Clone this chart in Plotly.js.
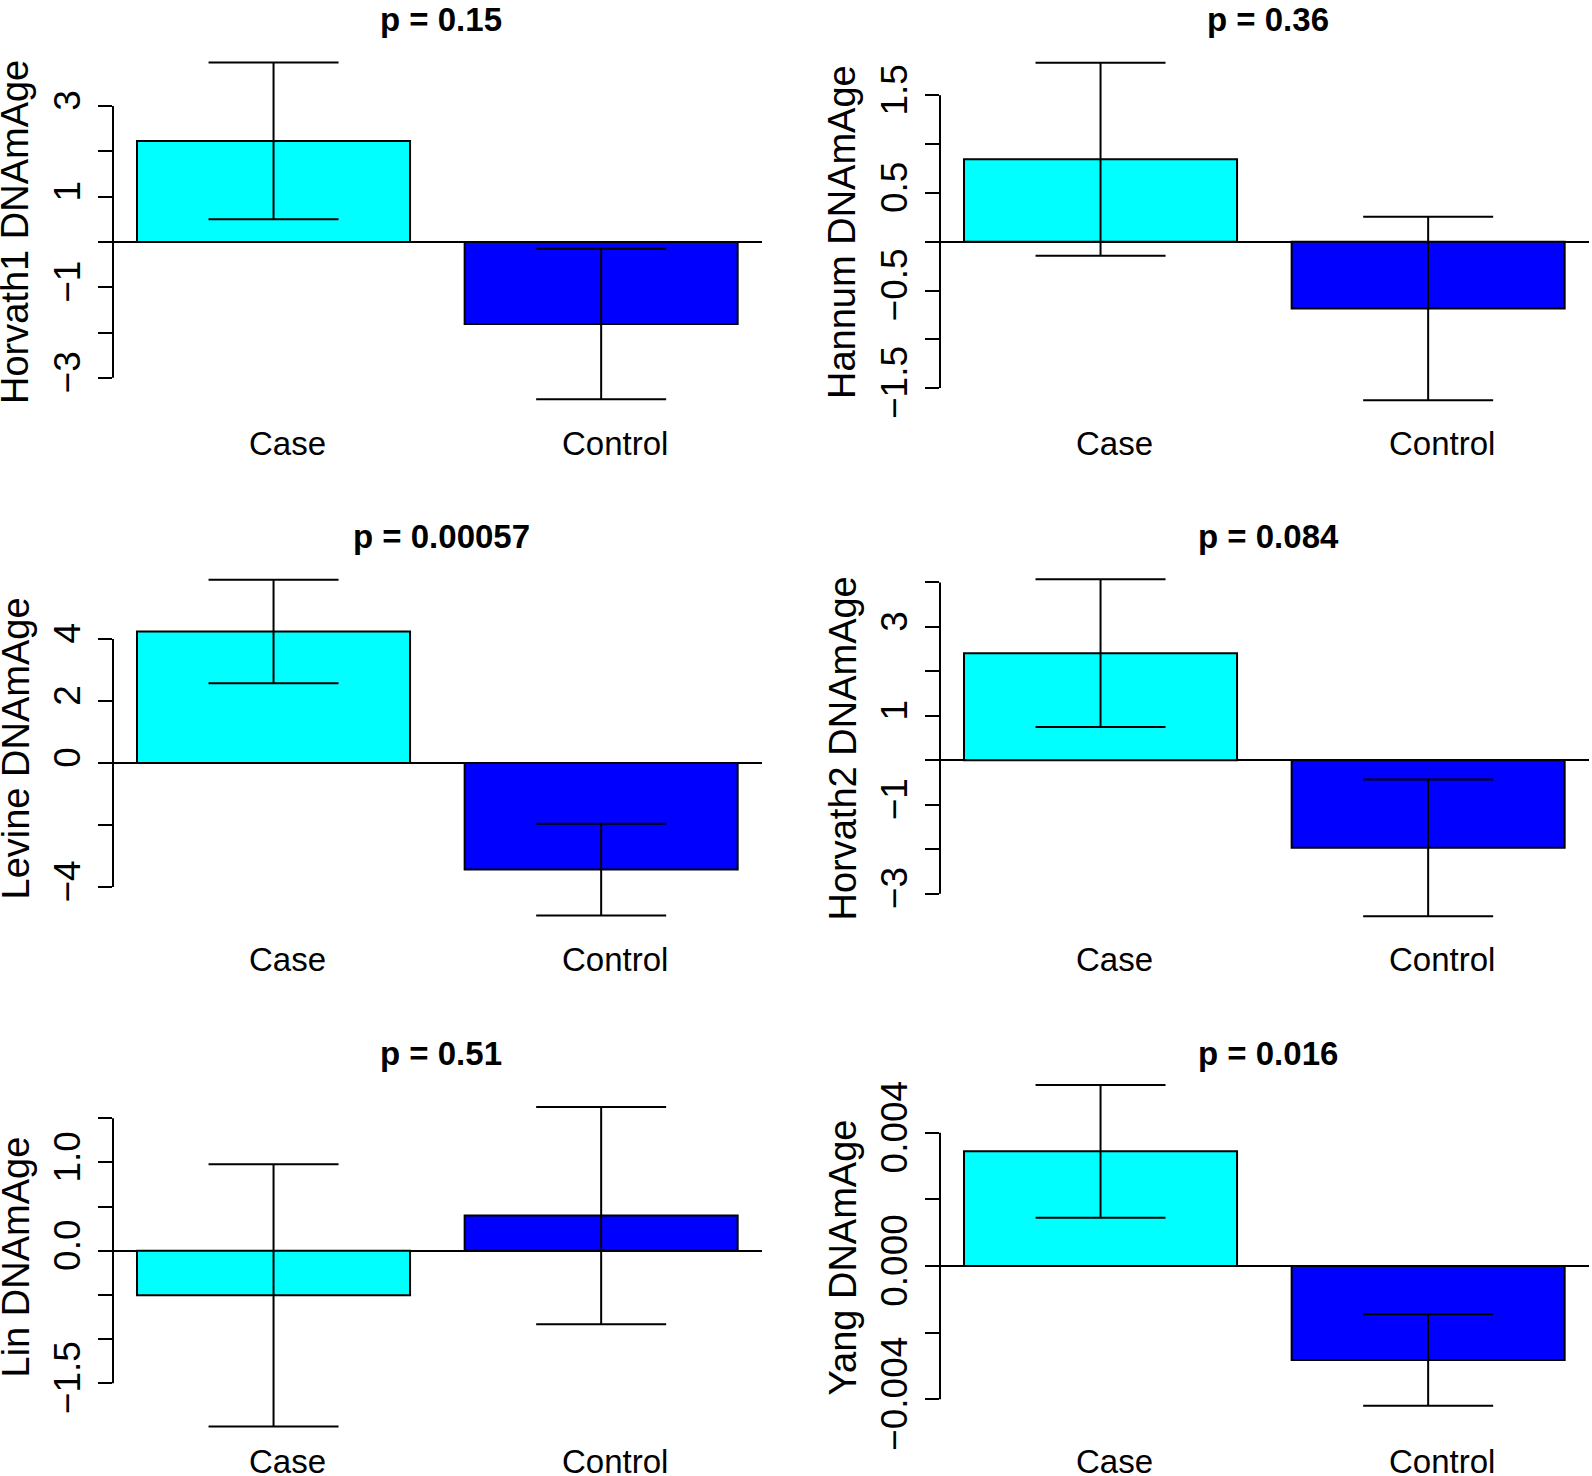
<!DOCTYPE html>
<html><head><meta charset="utf-8">
<script src="https://cdn.plot.ly/plotly-3.0.1.min.js"></script>
<style>html,body{margin:0;padding:0;background:#fff;} #chart{width:1592px;height:1476px;}</style>
</head><body><div id="chart"></div>
<script>
// ---- data ----
const groups = ["Case", "Control"];
const measures = ["Horvath1 DNAmAge", "Hannum DNAmAge", "Levine DNAmAge", "Horvath2 DNAmAge", "Lin DNAmAge", "Yang DNAmAge"];
const pValues = ["0.15", "0.36", "0.00057", "0.084", "0.51", "0.016"];
const caseMean = [2.23, 0.845, 4.24, 2.41, -0.505, 0.00344];
const caseSE = [1.73, 0.99, 1.67, 1.66, 1.485, 0.00199];
const controlMean = [-1.81, -0.685, -3.44, -1.97, 0.398, -0.00282];
const controlSE = [1.66, 0.94, 1.48, 1.54, 1.23, 0.00137];
const tickValues = [
  [-3, -2, -1, 0, 1, 2, 3],
  [-1.5, -1, -0.5, 0, 0.5, 1, 1.5],
  [-4, -2, 0, 2, 4],
  [-3, -2, -1, 0, 1, 2, 3, 4],
  [-1.5, -1, -0.5, 0, 0.5, 1, 1.5],
  [-0.004, -0.002, 0, 0.002, 0.004]
];
const tickLabels = [
  ["\u22123", "", "\u22121", "", "1", "", "3"],
  ["\u22121.5", "", "\u22120.5", "", "0.5", "", "1.5"],
  ["\u22124", "", "0", "2", "4"],
  ["\u22123", "", "\u22121", "", "1", "", "3", ""],
  ["\u22121.5", "", "", "0.0", "", "1.0", ""],
  ["\u22120.004", "", "0.000", "", "0.004"]
];
const barColors = ["#00FFFF", "#0000FF"];

// ---- layout settings ----
const W = 1592, H = 1476;
const FONT = "Liberation Sans, Arial, Helvetica, sans-serif";
const colPx = [[113, 761.7], [940, 1588.7]];
const rowPx = [[49, 415], [566, 931], [1082, 1433]];
const yRanges = [[-3.82, 4.26], [-1.776, 1.975], [-5.42, 6.35], [-3.84, 4.37], [-2.064, 1.91], [-0.00501, 0.00552]];

const data = [];
const layout = {
  width: W, height: H,
  margin: {l: 0, r: 0, t: 0, b: 0},
  paper_bgcolor: "#fff", plot_bgcolor: "rgba(0,0,0,0)",
  showlegend: false, bargap: 1/6,
  font: {family: FONT, color: "#000", size: 32},
  shapes: [], annotations: []
};
const px2x = p => p / W;
const px2y = p => 1 - p / H;

measures.forEach((m, i) => {
  const col = i % 2, row = Math.floor(i / 2);
  const xid = i === 0 ? "x" : "x" + (i + 1);
  const yid = i === 0 ? "y" : "y" + (i + 1);
  const xk = i === 0 ? "xaxis" : "xaxis" + (i + 1);
  const yk = i === 0 ? "yaxis" : "yaxis" + (i + 1);
  const [x0, x1] = colPx[col];
  const [t, b] = rowPx[row];

  data.push({
    type: "bar", x: groups, y: [caseMean[i], controlMean[i]],
    xaxis: xid, yaxis: yid,
    marker: {color: barColors, line: {color: "#000", width: 2}},
    error_y: {type: "data", array: [caseSE[i], controlSE[i]], visible: true,
              color: "#000", thickness: 2, width: 65},
    hoverinfo: "skip"
  });

  layout[xk] = {
    domain: [px2x(x0), px2x(x1)], anchor: yid,
    type: "category", categoryarray: groups, range: [-0.49, 1.49],
    showline: false, zeroline: false, showgrid: false, ticks: "",
    tickfont: {size: 33, family: FONT, color: "#000"},
    ticklabelstandoff: 6, ticklabelshift: 14,
    fixedrange: true
  };
  layout[yk] = {
    domain: [px2y(b), px2y(t)], anchor: xid, range: yRanges[i],
    tickmode: "array", tickvals: tickValues[i], ticktext: tickLabels[i],
    ticks: "outside", ticklen: 14, tickwidth: 2, tickcolor: "#000",
    tickangle: -90, tickfont: {size: 37, family: FONT, color: "#000"},
    ticklabelstandoff: 3,
    showgrid: false, showline: false,
    zeroline: true, zerolinecolor: "#000", zerolinewidth: 2,
    fixedrange: true
  };
  const tv = tickValues[i];
  layout.shapes.push({
    type: "line", xref: xid + " domain", yref: yid,
    x0: 0, x1: 0, y0: Math.min(...tv), y1: Math.max(...tv),
    line: {color: "#000", width: 2}
  });
  layout.annotations.push({
    xref: "paper", yref: "paper",
    x: px2x((x0 + x1) / 2 + 4), y: px2y(t - 29),
    xanchor: "center", yanchor: "middle", showarrow: false,
    text: "<b>p = " + pValues[i] + "</b>",
    font: {size: 33, family: FONT, color: "#000"}
  });
  layout.annotations.push({
    xref: "paper", yref: "paper",
    x: px2x(x0 - 98), y: px2y((t + b) / 2),
    xanchor: "center", yanchor: "middle", showarrow: false, textangle: -90,
    text: m, font: {size: 38, family: FONT, color: "#000"}
  });
});

Plotly.newPlot("chart", data, layout, {staticPlot: true, displayModeBar: false});
</script>
</body></html>
